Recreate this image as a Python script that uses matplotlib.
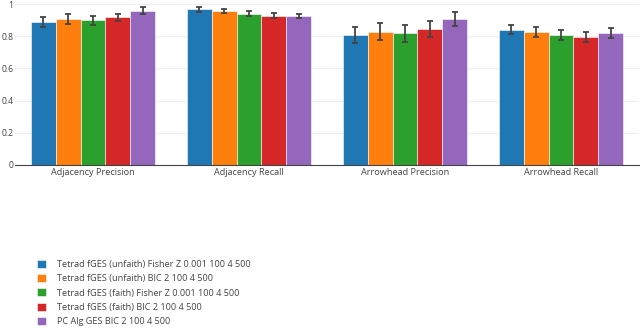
import matplotlib
matplotlib.use('Agg')
import matplotlib.pyplot as plt
import numpy as np

plt.rcParams['font.family'] = ['Open Sans', 'DejaVu Sans']

categories = ['Adjacency Precision', 'Adjacency Recall', 'Arrowhead Precision', 'Arrowhead Recall']
series = [
    'Tetrad fGES (unfaith) Fisher Z 0.001 100 4 500',
    'Tetrad fGES (unfaith) BIC 2 100 4 500',
    'Tetrad fGES (faith) Fisher Z 0.001 100 4 500',
    'Tetrad fGES (faith) BIC 2 100 4 500',
    'PC Alg GES BIC 2 100 4 500',
]
colors = ['#1f77b4', '#ff7f0e', '#2ca02c', '#d62728', '#9467bd']

# mean values per series (rows) and category (columns)
means = [
    [0.890, 0.967, 0.809, 0.840],
    [0.907, 0.958, 0.828, 0.826],
    [0.899, 0.940, 0.818, 0.809],
    [0.917, 0.927, 0.843, 0.797],
    [0.958, 0.927, 0.909, 0.818],
]
errors = [
    [0.031, 0.016, 0.050, 0.029],
    [0.029, 0.013, 0.054, 0.030],
    [0.029, 0.015, 0.052, 0.031],
    [0.021, 0.015, 0.050, 0.031],
    [0.023, 0.013, 0.043, 0.031],
]

fig = plt.figure(figsize=(6.4, 3.28), dpi=100)
ax = fig.add_axes([15 / 640, (328 - 165) / 328, 624 / 640, 161 / 328])

x = np.arange(len(categories))
n = len(series)
group_w = 0.8
w = group_w / n
for i in range(n):
    pos = x - group_w / 2 + w * (i + 0.5)
    ax.bar(pos, means[i], width=w, color=colors[i], edgecolor='white',
           linewidth=0.4, label=series[i], zorder=2)
    ax.errorbar(pos, means[i], yerr=errors[i], fmt='none', ecolor='#444444',
                elinewidth=1.3, capsize=2.5, capthick=1.3, zorder=3)

ax.set_xlim(-0.5, len(categories) - 0.5)
ax.set_ylim(0, 1)
ax.set_yticks([0, 0.2, 0.4, 0.6, 0.8, 1])
ax.set_yticklabels(['0', '0.2', '0.4', '0.6', '0.8', '1'])
ax.set_xticks(x)
ax.set_xticklabels(categories)
ax.tick_params(axis='x', length=0, labelsize=6.6, colors='#444444', pad=2)
ax.tick_params(axis='y', length=0, labelsize=6.2, colors='#444444', pad=1)
ax.grid(axis='y', color='#eeeeee', linewidth=0.8, zorder=0)
for s in ['top', 'right', 'left']:
    ax.spines[s].set_visible(False)
ax.spines['bottom'].set_color('#444444')
ax.spines['bottom'].set_linewidth(0.8)
ax.set_axisbelow(True)

handles, labels = ax.get_legend_handles_labels()
fig.legend(handles, labels, loc='upper left', bbox_to_anchor=(37 / 640, 1 - 260 / 328),
           frameon=False, fontsize=6.6, handlelength=0.95, handleheight=0.95,
           handletextpad=1.2, labelspacing=0.56, labelcolor='#444444',
           borderaxespad=0, borderpad=0)

fig.savefig('out.png', dpi=100)
